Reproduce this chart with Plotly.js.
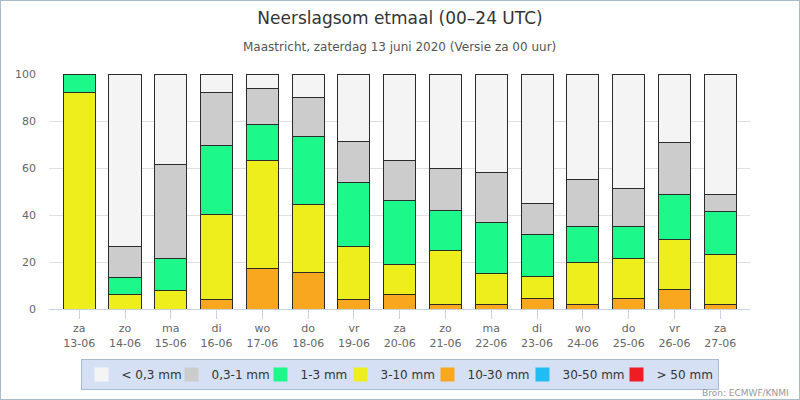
<!DOCTYPE html>
<html>
<head>
<meta charset="utf-8">
<script src="https://cdn.plot.ly/plotly-3.0.1.min.js"></script>
<style>
  html, body { margin: 0; padding: 0; background: #fff; }
  #frame { width: 798px; height: 398px; border: 1px solid #a7bccb; }
</style>
</head>
<body>
<div id="frame"><div id="chart"></div></div>
<script>
// Tick labels
var days  = ["za", "zo", "ma", "di", "wo", "do", "vr", "za", "zo", "ma", "di", "wo", "do", "vr", "za"];
var dates = ["13-06", "14-06", "15-06", "16-06", "17-06", "18-06", "19-06", "20-06", "21-06", "22-06", "23-06", "24-06", "25-06", "26-06", "27-06"];

// Probability (%) per precipitation class, per day
var r30to50 = [0, 0, 0, 0, 0, 0, 0, 0, 0, 0, 0, 0, 0, 0, 0];
var over50  = [0, 0, 0, 0, 0, 0, 0, 0, 0, 0, 0, 0, 0, 0, 0];
var r10to30 = [0, 0, 0, 4.0, 17.4, 15.5, 4.0, 6.0, 2.1, 2.1, 4.3, 2.1, 4.3, 8.2, 2.1];
var r3to10  = [92.2, 6.0, 7.8, 36.4, 46.0, 28.8, 22.8, 13.1, 23.0, 13.2, 9.7, 17.6, 17.4, 21.2, 21.3];
var r1to3   = [7.8, 7.6, 13.5, 29.0, 15.3, 28.9, 27.2, 26.9, 17.0, 21.3, 17.5, 15.6, 13.6, 19.5, 17.9];
var r03to1  = [0, 13.2, 40.4, 22.9, 15.3, 17.0, 17.1, 17.4, 17.5, 21.3, 13.6, 19.7, 15.8, 21.9, 7.6];
var under03 = [0, 73.2, 38.3, 7.7, 6.0, 9.8, 28.9, 36.6, 40.4, 42.1, 54.9, 45.0, 48.9, 29.2, 51.1];

var categories = days.map(function (d, i) { return d + "<br>" + dates[i]; });

// Stack order: bottom first
var classes = [
  { name: "> 50 mm",  values: over50,  color: "#ee1c25", lw: 56 },
  { name: "30-50 mm", values: r30to50, color: "#1fbdf2", lw: 49 },
  { name: "10-30 mm", values: r10to30, color: "#f8a71f", lw: 50 },
  { name: "3-10 mm",  values: r3to10,  color: "#eeee1c", lw: 42 },
  { name: "1-3 mm",   values: r1to3,   color: "#1cf889", lw: 35 },
  { name: "0,3-1 mm", values: r03to1,  color: "#cccccc", lw: 44 },
  { name: "< 0,3 mm", values: under03, color: "#f4f4f4", lw: 45 }
];

var traces = classes.map(function (c) {
  return {
    type: "bar",
    name: c.name,
    x: categories,
    y: c.values,
    showlegend: false,
    marker: { color: c.color, line: { color: "#2b2b2b", width: 1 } },
    hoverinfo: "name+y"
  };
});

// Legend entries (no visible points), in legend order
classes.slice().reverse().forEach(function (c) {
  traces.push({
    type: "scatter",
    mode: "markers",
    name: c.name,
    x: [categories[0]],
    y: [null],
    legendwidth: c.lw,
    marker: { symbol: "square", size: 14, color: c.color, line: { width: 0 } },
    hoverinfo: "skip"
  });
});

var font = "DejaVu Sans, sans-serif";

var layout = {
  width: 798,
  height: 398,
  margin: { l: 48, r: 49, t: 73, b: 90 },
  paper_bgcolor: "#ffffff",
  plot_bgcolor: "#ffffff",
  barmode: "stack",
  bargap: 0.3,
  font: { family: font, color: "#666666", size: 11 },
  title: {
    text: "Neerslagsom etmaal (00–24 UTC)",
    font: { family: font, size: 17, color: "#333333" },
    x: 0.5, xanchor: "center",
    y: 1 - 17 / 398, yref: "container", yanchor: "middle"
  },
  xaxis: {
    type: "category",
    range: [-0.66, 14.65],
    showgrid: false,
    showline: true,
    linecolor: "#c8d2e0",
    linewidth: 1,
    ticks: "outside",
    ticklen: 9,
    tickcolor: "#c8d2e0",
    tickfont: { family: font, size: 11, color: "#666666" },
    fixedrange: true
  },
  yaxis: {
    range: [0, 100],
    tickvals: [0, 20, 40, 60, 80, 100],
    showgrid: true,
    gridcolor: "#e0e0e0",
    zeroline: false,
    showline: false,
    ticks: "",
    ticklabelstandoff: 12,
    tickfont: { family: font, size: 11, color: "#666666" },
    fixedrange: true
  },
  yaxis2: {
    overlaying: "y",
    side: "right",
    range: [0, 100],
    tickvals: [0, 20, 40, 60, 80, 100],
    showgrid: false,
    zeroline: false,
    showline: false,
    ticks: "",
    ticklabelstandoff: 14,
    tickfont: { family: font, size: 11, color: "#666666" },
    fixedrange: true
  },
  showlegend: true,
  legend: {
    orientation: "h",
    traceorder: "normal",
    entrywidthmode: "pixels",
    x: 0.5, xanchor: "center",
    yref: "container",
    y: 1 - 358 / 398, yanchor: "top",
    bgcolor: "#d6e0f4",
    bordercolor: "#a9b8d3",
    borderwidth: 1,
    font: { family: font, size: 12, color: "#333333" },
    itemclick: false,
    itemdoubleclick: false
  },
  annotations: [
    {
      text: "Maastricht, zaterdag 13 juni 2020 (Versie za 00 uur)",
      xref: "paper", yref: "paper",
      x: 0.5, xanchor: "center",
      y: (308 - 46) / 235, yanchor: "middle",
      showarrow: false,
      font: { family: font, size: 12, color: "#555555" }
    },
    {
      text: "Bron: ECMWF/KNMI",
      xref: "paper", yref: "paper",
      x: (790 - 48) / 701, xanchor: "right",
      y: (308 - 392) / 235, yanchor: "middle",
      showarrow: false,
      font: { family: font, size: 9, color: "#999999" }
    }
  ]
};

Plotly.newPlot("chart", traces, layout, { displayModeBar: false });
</script>
</body>
</html>
